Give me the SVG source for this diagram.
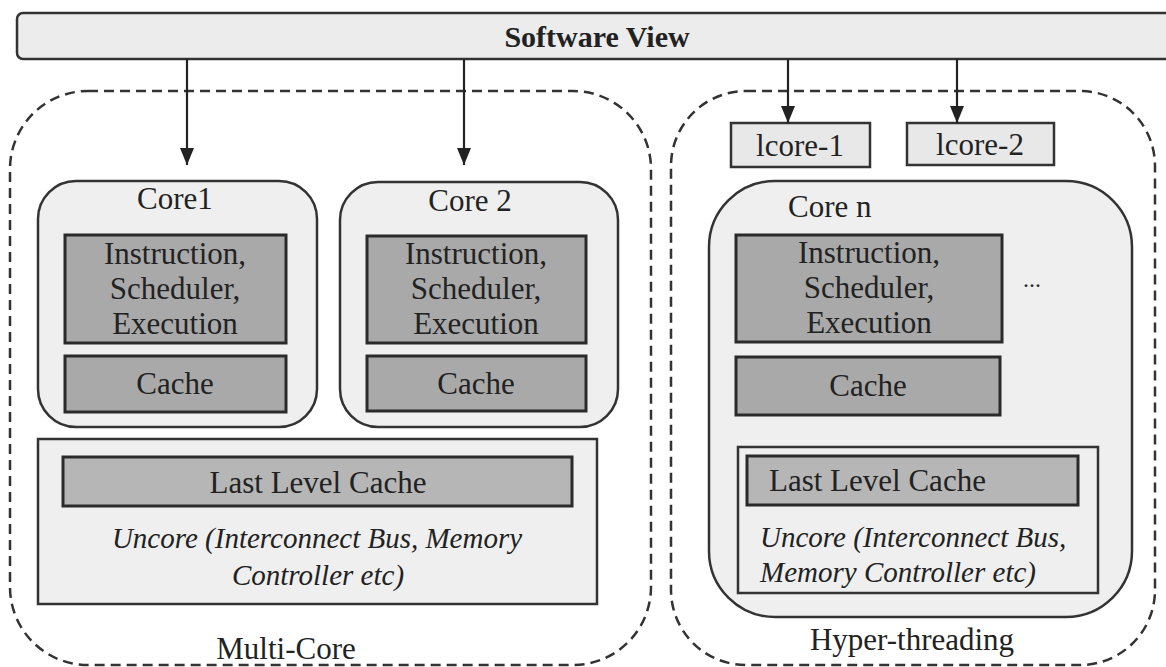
<svg xmlns="http://www.w3.org/2000/svg" width="1166" height="667" viewBox="0 0 1166 667">
<style>
text{font-family:"Liberation Serif","Times New Roman",serif;fill:#222;}
.t{font-size:31px;text-anchor:middle;}
.tl{font-size:31px;}
.it{font-size:29px;font-style:italic;text-anchor:middle;}
.itl{font-size:29px;font-style:italic;}
.dash{fill:none;stroke:#333;stroke-width:2.5;stroke-dasharray:10 6;}
.core{fill:#efefef;stroke:#333;stroke-width:2.5;}
.dark{fill:#a9a9a9;stroke:#2a2a2a;stroke-width:3;}
.llc{fill:#b6b6b6;stroke:#2a2a2a;stroke-width:3;}
.unc{fill:#efefef;stroke:#333;stroke-width:2.5;}
.lc{fill:#e8e8e8;stroke:#333;stroke-width:2.5;}
.ar{stroke:#222;stroke-width:2.2;fill:none;marker-end:url(#ah);}
</style>
<defs>
<marker id="ah" markerWidth="17" markerHeight="14" refX="17" refY="7" orient="auto" markerUnits="userSpaceOnUse" viewBox="0 0 17 14">
<path d="M0,0 L17,7 L0,14 Z" fill="#222"/>
</marker>
</defs>
<rect width="1166" height="667" fill="#fff"/>

<g id="software-view">
<rect x="17" y="13" width="1160" height="46" rx="6" fill="#ececec" stroke="#333" stroke-width="2.5"/>
<text x="597" y="47" class="t" style="font-weight:bold;font-size:30px">Software View</text>
</g>

<g id="multi-core">
<rect x="10" y="91" width="641" height="574" rx="78" ry="78" class="dash"/>
<text x="286" y="659" class="t">Multi-Core</text>
</g>

<g id="hyper-threading">
<rect x="671" y="91" width="484" height="574" rx="75" ry="75" class="dash"/>
<text x="912" y="650" class="t">Hyper-threading</text>
</g>

<g id="core1">
<rect x="38" y="181" width="279" height="246" rx="38" class="core"/>
<text x="175" y="209" class="t">Core1</text>
<rect x="65" y="235" width="221" height="108" class="dark"/>
<text x="175" y="264" class="t">Instruction,</text>
<text x="175" y="299" class="t">Scheduler,</text>
<text x="175" y="334" class="t">Execution</text>
<rect x="65" y="356" width="221" height="56" class="dark"/>
<text x="175" y="394" class="t">Cache</text>
</g>

<g id="core2">
<rect x="340" y="182" width="278" height="245" rx="38" class="core"/>
<text x="470" y="211" class="t">Core 2</text>
<rect x="367" y="236" width="219" height="107" class="dark"/>
<text x="476" y="264" class="t">Instruction,</text>
<text x="476" y="299" class="t">Scheduler,</text>
<text x="476" y="334" class="t">Execution</text>
<rect x="367" y="356" width="219" height="55" class="dark"/>
<text x="476" y="394" class="t">Cache</text>
</g>

<g id="uncore-left">
<rect x="38" y="439" width="559" height="165" class="unc"/>
<rect x="63" y="457" width="509" height="49" class="llc"/>
<text x="318" y="493" class="t">Last Level Cache</text>
<text x="317" y="548" class="it">Uncore (Interconnect Bus, Memory</text>
<text x="318" y="585" class="it">Controller etc)</text>
</g>

<g id="lcore-1">
<rect x="731" y="123" width="139" height="44" class="lc"/>
<text x="800" y="156" class="t">lcore-1</text>
</g>

<g id="lcore-2">
<rect x="907" y="123" width="147" height="42" class="lc"/>
<text x="980" y="155" class="t">lcore-2</text>
</g>

<g id="core-n">
<rect x="709" y="181" width="423" height="436" rx="66" class="core"/>
<text x="788" y="217" class="tl">Core n</text>
<rect x="736" y="235" width="266" height="107" class="dark"/>
<text x="869" y="263" class="t">Instruction,</text>
<text x="869" y="298" class="t">Scheduler,</text>
<text x="869" y="333" class="t">Execution</text>
<rect x="736" y="357" width="264" height="58" class="dark"/>
<text x="868" y="396" class="t">Cache</text>
<text x="1032" y="287" class="t" style="font-size:24px">...</text>
</g>

<g id="uncore-right">
<rect x="738" y="447" width="360" height="146" class="unc"/>
<rect x="747" y="456" width="331" height="49" class="llc"/>
<text x="769" y="491" class="tl">Last Level Cache</text>
<text x="760" y="547" class="itl">Uncore (Interconnect Bus,</text>
<text x="760" y="582" class="itl">Memory Controller etc)</text>
</g>

<g id="connectors">
<line x1="187" y1="59" x2="187" y2="165" class="ar"/>
<line x1="464" y1="59" x2="464" y2="165" class="ar"/>
<line x1="788" y1="59" x2="788" y2="123" class="ar"/>
<line x1="957" y1="59" x2="957" y2="123" class="ar"/>
</g>
</svg>
